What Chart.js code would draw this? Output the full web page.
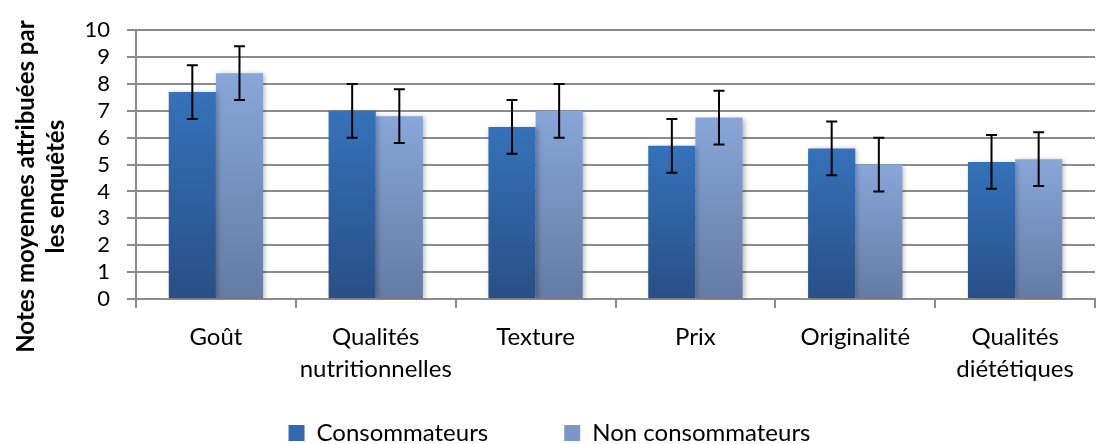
<!DOCTYPE html>
<html>
<head>
<meta charset="utf-8">
<script src="https://cdn.jsdelivr.net/npm/chart.js@4/dist/chart.umd.min.js"></script>
<style>
html,body{margin:0;padding:0;background:#fff;overflow:hidden;}
#wrap{width:1102px;height:444px;position:relative;}
canvas{display:block;}
</style>
</head>
<body>
<div id="wrap"><canvas id="c" width="1102" height="444"></canvas></div>
<script>
const categories = [['Goût'], ['Qualités','nutritionnelles'], ['Texture'], ['Prix'], ['Originalité'], ['Qualités','diététiques']];
const consommateurs = [7.7, 7.0, 6.4, 5.7, 5.6, 5.1];
const nonConsommateurs = [8.4, 6.8, 7.0, 6.75, 5.0, 5.2];
const errConsommateurs = [1.0, 1.0, 1.0, 1.0, 1.0, 1.0];
const errNonConsommateurs = [1.0, 1.0, 1.0, 1.0, 1.0, 1.0];
const seriesNames = ['Consommateurs', 'Non consommateurs'];
const yTicks = [0,1,2,3,4,5,6,7,8,9,10];

const FONT = 'Lato, "Open Sans", sans-serif';

function barGradient(topColor, bottomColor) {
  return function(context) {
    const chart = context.chart;
    const area = chart.chartArea;
    if (!area) return topColor;
    if (context.type !== 'data') return topColor;
    const y = chart.scales.y;
    const top = y.getPixelForValue(context.raw);
    const bot = y.getPixelForValue(0);
    if (!isFinite(top) || top === bot) return topColor;
    const g = chart.ctx.createLinearGradient(0, top, 0, bot);
    g.addColorStop(0, topColor);
    g.addColorStop(1, bottomColor);
    return g;
  };
}

const errors = [errConsommateurs, errNonConsommateurs];

const errorBarPlugin = {
  id: 'errorBars',
  afterDatasetsDraw(chart) {
    const ctx = chart.ctx;
    const y = chart.scales.y;
    chart.data.datasets.forEach((ds, di) => {
      const meta = chart.getDatasetMeta(di);
      meta.data.forEach((el, i) => {
        const v = ds.data[i];
        const e = errors[di][i];
        const yt = y.getPixelForValue(v + e);
        const yb = y.getPixelForValue(v - e);
        const x = el.x;
        ctx.save();
        ctx.strokeStyle = '#000';
        ctx.lineWidth = 2;
        ctx.beginPath();
        ctx.moveTo(x, yt); ctx.lineTo(x, yb);
        ctx.moveTo(x - 5.5, yt); ctx.lineTo(x + 5.5, yt);
        ctx.moveTo(x - 5.5, yb); ctx.lineTo(x + 5.5, yb);
        ctx.stroke();
        ctx.restore();
      });
    });
  }
};

const shadowPlugin = {
  id: 'barShadow',
  beforeDatasetDraw(chart) {
    const ctx = chart.ctx;
    ctx.save();
    ctx.shadowColor = 'rgba(0,0,0,0.28)';
    ctx.shadowBlur = 5;
    ctx.shadowOffsetX = 2;
    ctx.shadowOffsetY = 1;
  },
  afterDatasetDraw(chart) {
    chart.ctx.restore();
  }
};

// shift the y-axis title down a little so it is centred like the original
const titleShiftPlugin = {
  id: 'titleShift',
  afterLayout(chart) {
    const s = chart.scales.y;
    if (s && !s._shiftPatched) {
      const orig = s.drawTitle.bind(s);
      s.drawTitle = function() {
        const ctx = this.ctx;
        ctx.save();
        ctx.translate(-3, 22);
        orig();
        ctx.restore();
      };
      s._shiftPatched = true;
    }
  }
};

new Chart(document.getElementById('c'), {
  type: 'bar',
  data: {
    labels: categories,
    datasets: [
      {
        label: seriesNames[0],
        data: consommateurs,
        backgroundColor: barGradient('#3572BA', '#284F86'),
        borderWidth: 0,
        categoryPercentage: 0.59,
        barPercentage: 1.0
      },
      {
        label: seriesNames[1],
        data: nonConsommateurs,
        backgroundColor: barGradient('#88A6D9', '#647CA4'),
        borderWidth: 0,
        categoryPercentage: 0.59,
        barPercentage: 1.0
      }
    ]
  },
  options: {
    responsive: false,
    animation: false,
    devicePixelRatio: 1,
    layout: { padding: { top: 5, right: 7, left: 4, bottom: -11 } },
    plugins: {
      tooltip: { enabled: false },
      legend: {
        position: 'bottom',
        labels: {
          font: { family: FONT, size: 24 },
          color: '#000',
          boxWidth: 16,
          boxHeight: 16,
          padding: 4,
          generateLabels(chart) {
            const cols = ['#3168B0', '#7C96C6'];
            return seriesNames.map((n, i) => ({
              text: i === 0 ? n + '\u2003\u2003\u2003\u2003' : n,
              fillStyle: cols[i],
              strokeStyle: cols[i],
              lineWidth: 0,
              datasetIndex: i,
              fontColor: '#000'
            }));
          }
        }
      }
    },
    scales: {
      x: {
        offset: true,
        grid: { offset: true, drawOnChartArea: false, drawTicks: true, tickLength: 9, color: '#8c8c8c', lineWidth: 2 },
        border: { display: true, color: '#8c8c8c', width: 2 },
        ticks: { font: { family: FONT, size: 24, lineHeight: 1.3 }, color: '#000', padding: 14, maxRotation: 0, autoSkip: false },
        afterFit(scale) { scale.height = 118; }
      },
      y: {
        min: 0,
        max: 10,
        afterBuildTicks(scale) { scale.ticks = yTicks.map(v => ({ value: v })); },
        afterFit(scale) { scale.width = 132; },
        grid: { color: '#8c8c8c', lineWidth: 2, drawTicks: true, tickLength: 9 },
        border: { display: true, color: '#8c8c8c', width: 2 },
        ticks: { font: { family: FONT, size: 22 }, color: '#000', padding: 17, autoSkip: false, stepSize: 1 },
        title: {
          display: true,
          text: ['Notes moyennes attribuées par', 'les enquêtés'],
          font: { family: FONT, size: 24, weight: 'bold', lineHeight: 1.25 },
          color: '#000',
          padding: { top: 10, bottom: 10 }
        }
      }
    }
  },
  plugins: [shadowPlugin, errorBarPlugin, titleShiftPlugin]
});
</script>
</body>
</html>
